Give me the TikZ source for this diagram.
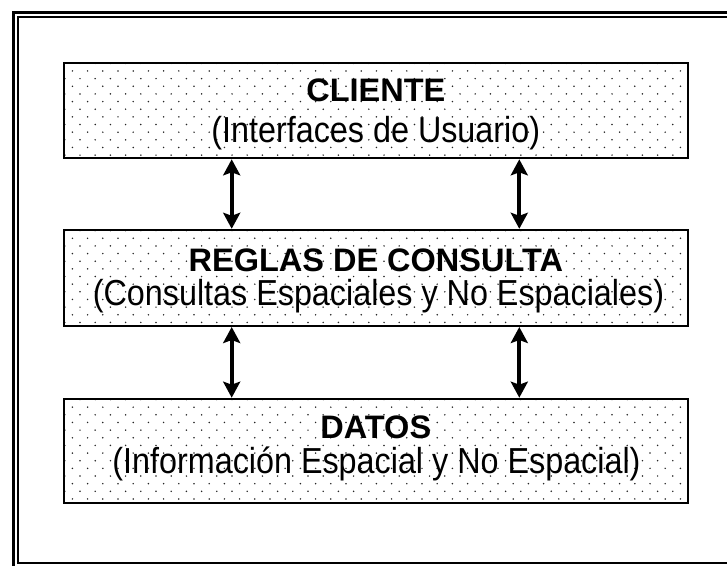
\documentclass[tikz,border=0pt]{standalone}
\usepackage{fontspec}
\usepackage{graphicx}
\setmainfont{Liberation Sans}
\usetikzlibrary{arrows.meta}
\tikzset{
  layerbox/.style={draw=black, line width=2pt},
  dbl/.style={line width=4pt, {Stealth[length=16pt,width=17pt,inset=3pt]}-{Stealth[length=16pt,width=17pt,inset=3pt]}},
  titletext/.style={anchor=base, inner sep=0pt, font=\fontsize{32.5}{36}\selectfont\bfseries},
  subtext/.style={anchor=base, inner sep=0pt, font=\fontsize{32}{36}\selectfont},
  dotc/.style={fill=black!85}
}
\newcommand{\substr}[1]{\scalebox{1.01}[1.13]{#1}}
\newcommand{\mydotgrid}[4]{% x1 y1 x2 y2
  \begin{scope}
    \clip (#1,#2) rectangle (#3,#4);
    \foreach \j in {0,...,15}{
      \pgfmathsetmacro{\yy}{#2+0.8+7.65*\j}
      \pgfmathsetmacro{\xo}{mod(\j,2)==1 ? 7.6 : 0}
      \foreach \k in {0,...,42}{
        \fill[dotc] ({#1+0.8+\xo+15.2*\k},\yy) circle (0.85pt);
      }
    }
  \end{scope}
}
\begin{document}
\begin{tikzpicture}[x=1pt,y=-1pt]
\useasboundingbox (0,0) rectangle (727,565);
\clip (0,0) rectangle (727,565);
% outer frame
\draw[line width=2.7pt] (13.3,12.2) rectangle (760,600);
\draw[line width=2pt] (18.3,17.2) rectangle (745,562.5);
% dots
\mydotgrid{64}{62.5}{688}{158.3}
\mydotgrid{64}{229.8}{688}{326}
\mydotgrid{64}{398.7}{688}{503.3}
% boxes
\draw[layerbox] (64,62.5) rectangle (688,158.3);
\draw[layerbox] (64,229.8) rectangle (688,326);
\draw[layerbox] (64,398.7) rectangle (688,503.3);
\coordinate (a1t) at (231.7,159.3);
\coordinate (a1b) at (231.7,228.8);
\coordinate (a2t) at (519.3,159.3);
\coordinate (a2b) at (519.3,228.8);
\coordinate (a3t) at (231.7,327);
\coordinate (a3b) at (231.7,397.7);
\coordinate (a4t) at (519.3,327);
\coordinate (a4b) at (519.3,397.7);
% texts
\node[titletext] (t1) at (375.8,101.7) {CLIENTE};
\node[subtext] (s1) at (375.8,142.5) {\substr{(Interfaces de Usuario)}};
\node[titletext] (t2) at (375.8,271.7) {REGLAS DE CONSULTA};
\node[subtext] (s2) at (378.5,305) {\substr{(Consultas Espaciales y No Espaciales)}};
\node[titletext] (t3) at (375.8,438) {DATOS};
\node[subtext] (s3) at (376.5,473) {\substr{(Información Espacial y No Espacial)}};
% arrows
\draw[dbl] (a1t) -- (a1b);
\draw[dbl] (a2t) -- (a2b);
\draw[dbl] (a3t) -- (a3b);
\draw[dbl] (a4t) -- (a4b);
\end{tikzpicture}
\end{document}
